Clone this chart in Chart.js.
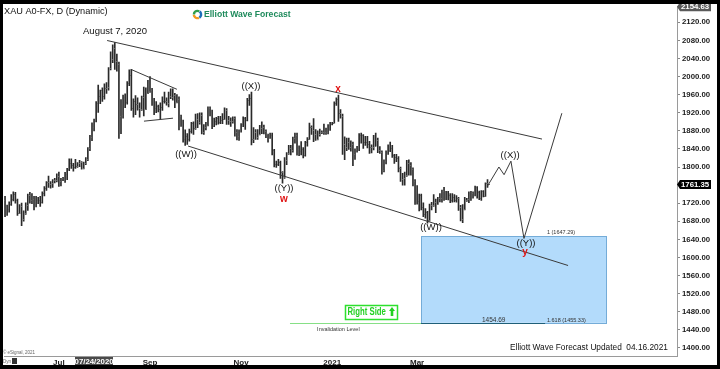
<!DOCTYPE html>
<html>
<head>
<meta charset="utf-8">
<title>XAU A0-FX, D</title>
<script src="https://cdn.jsdelivr.net/npm/chart.js@4.4.1/dist/chart.umd.min.js"></script>
<style>
  html, body { margin: 0; padding: 0; background: #000; }
  canvas { display: block; }
</style>
</head>
<body>
<canvas id="xau" width="720" height="369"></canvas>
<script>
// XAU daily bars, 26 May 2020 .. 16 Apr 2021
var firstDay = '2020-05-26';
var futureSlots = 91;

var open = [
  1728,1710,1708,1719,
  1730,1740,1727,1699,1714,1684,1698,1715,1737,1728,1730,1725,1727,1726,1722,1742,1754,1767,1762,1764,1771,1772,
  1780,1769,1775,1773,1784,1795,1809,1804,1800,1803,1809,1810,1797,1809,1818,1842,1866,1888,1902,1941,1957,1970,1958,
  1975,1976,2019,2040,2063,2035,2028,1912,1914,1954,1944,1985,2003,1930,1946,1940,1930,1928,1954,1929,1964,
  1968,1971,1944,1930,1934,1929,1932,1946,1945,1941,1957,1955,1960,1944,1950,1912,1900,1863,1868,1862,1880,1898,
  1886,1906,1899,1914,1878,1889,1893,1930,1922,1891,1902,1908,1899,1905,1907,1925,1904,1902,1902,1908,1877,1868,
  1879,1895,1909,1904,1948,1952,1863,1877,1866,1874,1887,1888,1880,1872,1866,1871,1838,1806,1806,1811,1788,
  1777,1815,1830,1841,1838,1864,1871,1839,1836,1840,1827,1855,1863,1888,1881,1872,1862,1872,1877,1878,1878,1877,1893,
  1896,1897,1942,1950,1919,1913,1850,1844,1855,1845,1851,1828,1839,1840,1871,1870,1855,1855,1850,1844,1844,
  1847,1860,1838,1834,1793,1813,1834,1838,1842,1826,1823,1819,1798,1773,1775,1783,1808,1805,1796,1770,
  1733,1724,1738,1712,1697,1700,1683,1715,1716,1722,1719,1731,1731,1746,1737,1745,1738,1727,1734,1728,1732,1712,1685,
  1708,1728,1729,1728,1743,1737,1755,1744,1732,1746,1736,1764
];
var high = [
  1735,1716,1723,1739,
  1745,1744,1729,1717,1720,1703,1721,1740,1744,1741,1735,1735,1733,1735,1745,1757,1768,1780,1768,1772,1775,1785,
  1789,1775,1777,1788,1797,1818,1818,1808,1817,1810,1815,1812,1811,1821,1843,1870,1898,1906,1945,1981,1970,1975,1984,
  1987,2020,2055,2070,2075,2050,2032,1949,1959,1962,1989,2015,2016,1951,1958,1953,1942,1957,1977,1975,1992,
  2000,1974,1952,1945,1937,1942,1955,1966,1953,1966,1973,1973,1963,1960,1955,1915,1904,1882,1874,1884,1899,1900,
  1917,1918,1920,1920,1894,1899,1933,1933,1926,1908,1910,1912,1912,1918,1931,1929,1912,1909,1911,1911,1883,1882,
  1896,1911,1910,1952,1960,1966,1887,1883,1883,1892,1900,1893,1882,1873,1875,1875,1839,1813,1817,1813,1790,
  1821,1832,1848,1848,1866,1875,1875,1847,1856,1843,1857,1865,1897,1891,1907,1883,1880,1884,1880,1895,1886,1894,1899,
  1899,1944,1953,1959,1927,1917,1867,1864,1864,1858,1855,1840,1846,1874,1875,1872,1868,1868,1857,1849,1870,
  1875,1864,1845,1836,1816,1836,1849,1855,1848,1828,1828,1823,1800,1786,1789,1815,1816,1810,1798,1772,
  1759,1740,1740,1721,1708,1702,1718,1722,1739,1729,1733,1741,1749,1755,1746,1746,1741,1741,1739,1737,1733,1715,1717,
  1733,1731,1745,1746,1745,1758,1757,1747,1748,1748,1765,1772
];
var low = [
  1690,1693,1700,1715,
  1725,1720,1693,1697,1670,1680,1695,1704,1720,1719,1705,1712,1719,1713,1720,1736,1748,1755,1753,1755,1765,1767,
  1757,1758,1770,1766,1772,1792,1797,1791,1797,1799,1801,1795,1796,1805,1814,1836,1858,1880,1900,1921,1940,1945,1950,
  1963,1970,2015,2031,2016,2012,1863,1874,1908,1931,1939,1980,1925,1910,1916,1926,1910,1925,1913,1927,1962,
  1965,1936,1916,1920,1922,1906,1925,1941,1937,1933,1951,1948,1931,1942,1882,1890,1855,1848,1850,1857,1875,1872,
  1883,1887,1895,1873,1872,1882,1891,1913,1885,1889,1893,1895,1896,1896,1905,1894,1894,1890,1897,1868,1860,1859,
  1877,1889,1883,1902,1936,1849,1854,1861,1861,1871,1874,1873,1865,1855,1863,1827,1800,1799,1803,1775,1764,
  1775,1805,1828,1827,1833,1853,1826,1825,1827,1820,1824,1846,1861,1872,1856,1859,1860,1868,1874,1872,1872,1873,1881,
  1893,1897,1936,1901,1908,1828,1816,1836,1839,1835,1803,1817,1833,1836,1853,1841,1848,1842,1830,1831,1838,
  1846,1832,1830,1784,1789,1807,1828,1834,1821,1808,1812,1789,1768,1760,1760,1779,1782,1782,1758,1717,
  1718,1703,1705,1690,1687,1676,1680,1705,1713,1699,1717,1723,1722,1726,1728,1727,1721,1722,1723,1722,1704,1681,1677,
  1705,1724,1721,1726,1731,1736,1731,1728,1726,1734,1735,1755
];
var close = [
  1710,1708,1719,1730,
  1740,1727,1699,1714,1684,1698,1715,1737,1728,1730,1725,1727,1726,1722,1742,1754,1767,1762,1764,1771,1772,1780,
  1769,1775,1773,1784,1795,1809,1804,1800,1803,1809,1810,1797,1809,1818,1842,1866,1888,1902,1941,1957,1970,1958,1975,
  1976,2019,2040,2063,2035,2028,1912,1914,1954,1944,1985,2003,1930,1946,1940,1930,1928,1954,1929,1964,1968,
  1971,1944,1930,1934,1929,1932,1946,1945,1941,1957,1955,1960,1944,1950,1912,1900,1863,1868,1862,1880,1898,1886,
  1906,1899,1914,1878,1889,1893,1930,1922,1891,1902,1908,1899,1905,1907,1925,1904,1902,1902,1908,1877,1868,1879,
  1895,1909,1904,1948,1952,1863,1877,1866,1874,1887,1888,1880,1872,1866,1871,1838,1806,1806,1811,1788,1777,
  1815,1830,1841,1838,1864,1871,1839,1836,1840,1827,1855,1863,1888,1881,1872,1862,1872,1877,1878,1878,1877,1893,1896,
  1897,1942,1950,1919,1913,1850,1844,1855,1845,1851,1828,1839,1840,1871,1870,1855,1855,1850,1844,1844,1847,
  1860,1838,1834,1793,1813,1834,1838,1842,1826,1823,1819,1798,1773,1775,1783,1808,1805,1796,1770,1733,
  1724,1738,1712,1697,1700,1683,1715,1716,1722,1719,1731,1731,1746,1737,1745,1738,1727,1734,1728,1732,1712,1685,1708,
  1728,1729,1728,1743,1737,1755,1744,1732,1746,1736,1764,1761.35
];

// axis labels
var monthTicks = { '2020-07-01': 'Jul', '2020-09-01': 'Sep', '2020-11-02': 'Nov', '2021-01-01': '2021', '2021-03-01': 'Mar' };
var yTicks = [1400,1440,1480,1520,1560,1600,1640,1680,1720,1760,1800,1840,1880,1920,1960,2000,2040,2080,2120];
var yMin = 1382, yMax = 2154.63;
var lastPrice = 1761.35;
var cursorDay = '2020-07-24', cursorText = '07/24/2020';

// drawings, in (bar index, price)
var channelTop = [[49.3, 2079.8], [259.3, 1861.8]];
var channelBottom = [[88.4, 1846.4], [271.9, 1582.2]];
var triangleTop = [[60.8, 2015.9], [83.0, 1971.9]];
var triangleBottom = [[67.1, 1901.4], [81.1, 1908.0]];
var forecastPath = [[233, 1758], [238.5, 1800], [241, 1783], [244.3, 1813], [250.6, 1642], [268.9, 1919]];
var fibTop = 1647.29, fibBottom = 1455.33, invalidation = 1454.69;
var boxFrom = 200.9, boxTo = 290.2;
var waveLabels = [
  { text: 'August 7, 2020', i: 53.1, p: 2099.6 },
  { text: '((X))', i: 118.8, p: 1978.5 },
  { text: 'x', i: 160.8, p: 1971.9, red: true },
  { text: '((W))', i: 87.4, p: 1828.8 },
  { text: '((Y))', i: 134.7, p: 1751.7 },
  { text: 'w', i: 134.7, p: 1729.7, red: true },
  { text: '((W))', i: 205.7, p: 1665.9 },
  { text: '((X))', i: 243.9, p: 1826.6 },
  { text: '((Y))', i: 251.6, p: 1630.6 },
  { text: 'y', i: 251.1, p: 1610.8, red: true }
];

// trading-day categories
var dates = [];
var d = new Date(firstDay + 'T00:00:00Z');
while (dates.length < open.length) {
  var wd = d.getUTCDay();
  if (wd !== 0 && wd !== 6) dates.push(d.toISOString().slice(0, 10));
  d.setUTCDate(d.getUTCDate() + 1);
}
for (var k = 0; k < futureSlots; k++) dates.push('');

var FONT = '"Liberation Sans", Arial, sans-serif';

function polyline(c, xs, ys, pts) {
  c.beginPath();
  pts.forEach(function (pt, n) {
    var x = xs.getPixelForValue(pt[0]), y = ys.getPixelForValue(pt[1]);
    if (n === 0) c.moveTo(x, y); else c.lineTo(x, y);
  });
  c.stroke();
}

var drawings = {
  id: 'drawings',
  beforeDraw: function (chart) {
    var c = chart.ctx;
    c.save();
    c.fillStyle = '#fff';
    c.fillRect(0, 0, chart.width, chart.height);
    c.restore();
  },
  beforeDatasetsDraw: function (chart) {
    var c = chart.ctx, xs = chart.scales.x, ys = chart.scales.y;
    var x0 = xs.getPixelForValue(boxFrom), x1 = xs.getPixelForValue(boxTo);
    var y0 = ys.getPixelForValue(fibTop), y1 = ys.getPixelForValue(fibBottom);
    c.save();
    c.fillStyle = '#b3dbfb';
    c.fillRect(x0, y0, x1 - x0, y1 - y0);
    c.strokeStyle = '#74acd8';
    c.lineWidth = 1;
    c.strokeRect(Math.round(x0) + 0.5, Math.round(y0) + 0.5, Math.round(x1 - x0), Math.round(y1 - y0));
    c.restore();
  },
  afterDatasetsDraw: function (chart) {
    var c = chart.ctx, xs = chart.scales.x, ys = chart.scales.y;
    c.save();
    // open / close ticks
    c.fillStyle = '#666';
    for (var i = 0; i < open.length; i++) {
      var x = Math.round(xs.getPixelForValue(i));
      c.fillRect(x - 1, Math.round(ys.getPixelForValue(open[i])), 1, 1);
      c.fillRect(x + 1, Math.round(ys.getPixelForValue(close[i])), 1, 1);
    }
    // trend lines and forecast
    c.strokeStyle = '#3a3a3a';
    c.lineWidth = 1;
    [channelTop, channelBottom, triangleTop, triangleBottom, forecastPath].forEach(function (pts) {
      polyline(c, xs, ys, pts);
    });
    // invalidation level
    var yi = Math.round(ys.getPixelForValue(invalidation)) + 0.5;
    c.strokeStyle = '#86e086';
    c.beginPath(); c.moveTo(xs.getPixelForValue(137.6), yi); c.lineTo(xs.getPixelForValue(boxFrom), yi); c.stroke();
    c.strokeStyle = '#1f5f78';
    c.beginPath(); c.moveTo(xs.getPixelForValue(boxFrom), yi); c.lineTo(xs.getPixelForValue(260.8), yi); c.stroke();

    // level texts
    c.fillStyle = '#333';
    c.textAlign = 'left';
    c.textBaseline = 'alphabetic';
    c.font = '5.5px ' + FONT;
    c.fillText('1 (1647.29)', xs.getPixelForValue(261.7), ys.getPixelForValue(fibTop) - 2);
    c.fillText('1.618 (1455.33)', xs.getPixelForValue(261.7), ys.getPixelForValue(fibBottom) - 1);
    c.fillText('Invalidation Level', xs.getPixelForValue(150.7), ys.getPixelForValue(invalidation) + 8);
    c.font = '6.5px ' + FONT;
    c.fillText('1454.69', xs.getPixelForValue(230.3), ys.getPixelForValue(invalidation) - 1);

    // Right Side box
    var rx0 = Math.round(xs.getPixelForValue(164.2)), rx1 = Math.round(xs.getPixelForValue(189.3));
    var ry0 = Math.round(ys.getPixelForValue(1494)), ry1 = Math.round(ys.getPixelForValue(1463));
    c.fillStyle = '#fff';
    c.fillRect(rx0, ry0, rx1 - rx0, ry1 - ry0);
    c.strokeStyle = '#2ee02e';
    c.lineWidth = 1.5;
    c.strokeRect(rx0 + 0.5, ry0 + 0.5, rx1 - rx0, ry1 - ry0);
    c.fillStyle = '#22d022';
    c.save();
    c.translate(rx0 + 2.5, (ry0 + ry1) / 2 + 0.5);
    c.scale(0.74, 1);
    c.font = 'bold 10.5px ' + FONT;
    c.textBaseline = 'middle';
    c.fillText('Right Side', 0, 0);
    c.restore();
    var ax = rx1 - 5, ay = (ry0 + ry1) / 2;
    c.beginPath();
    c.moveTo(ax, ay - 5); c.lineTo(ax + 3, ay - 1); c.lineTo(ax + 1.3, ay - 1); c.lineTo(ax + 1.3, ay + 4);
    c.lineTo(ax - 1.3, ay + 4); c.lineTo(ax - 1.3, ay - 1); c.lineTo(ax - 3, ay - 1); c.closePath();
    c.fill();

    // wave labels
    c.textAlign = 'center';
    c.textBaseline = 'middle';
    waveLabels.forEach(function (w) {
      c.fillStyle = w.red ? '#e01515' : '#111';
      c.font = (w.red ? 'bold 10px ' : '9.5px ') + FONT;
      c.fillText(w.text, xs.getPixelForValue(w.i), ys.getPixelForValue(w.p));
    });
    c.restore();
  },
  afterDraw: function (chart) {
    var c = chart.ctx, xs = chart.scales.x, ys = chart.scales.y;
    var right = chart.chartArea.right;
    c.save();
    c.textBaseline = 'middle';
    c.textAlign = 'left';
    // title and watermark
    c.fillStyle = '#111';
    c.font = '9.2px ' + FONT;
    c.fillText('XAU A0-FX, D (Dynamic)', 4, 11);
    c.font = '8.3px ' + FONT;
    c.fillText('Elliott Wave Forecast Updated  04.16.2021', 510, 348);
    c.fillStyle = '#1d8a5b';
    c.font = 'bold 8.6px ' + FONT;
    c.fillText('Elliott Wave Forecast', 204, 14.5);
    c.lineWidth = 2.4;
    [['#2f9e4a', Math.PI, Math.PI * 1.66], ['#1b6fb8', Math.PI * 1.7, Math.PI * 2.33], ['#f29a1f', Math.PI * 0.37, Math.PI * 0.97]].forEach(function (a) {
      c.strokeStyle = a[0];
      c.beginPath(); c.arc(197.5, 14.5, 3.6, a[1], a[2]); c.stroke();
    });
    c.fillStyle = '#666';
    c.font = '4.5px ' + FONT;
    c.fillText('\u00a9 eSignal, 2021', 3, 352.5);
    c.fillText('Dyn', 3, 361.5);
    c.fillStyle = '#333';
    c.fillRect(12, 358, 5, 6);

    // price tags on the right axis
    function tag(price, fill) {
      var y = ys.getPixelForValue(price);
      c.fillStyle = fill;
      c.beginPath();
      c.moveTo(right, y); c.lineTo(right + 3, y - 4.5); c.lineTo(right + 34, y - 4.5);
      c.lineTo(right + 34, y + 4.5); c.lineTo(right + 3, y + 4.5); c.closePath();
      c.fill();
      c.fillStyle = '#fff';
      c.font = 'bold 7.8px ' + FONT;
      c.fillText(price.toFixed(2), right + 4, y + 0.5);
    }
    tag(yMax, '#5a5a5a');
    tag(lastPrice, '#000');

    // cursor date tag
    var cx = xs.getPixelForValue(dates.indexOf(cursorDay));
    c.fillStyle = '#4a4a4a';
    c.fillRect(Math.round(cx - 19), 357, 38, 10);
    c.fillStyle = '#fff';
    c.textAlign = 'center';
    c.font = 'bold 7.8px ' + FONT;
    c.fillText(cursorText, cx, 361.5);

    // outer frame
    c.fillStyle = '#000';
    c.fillRect(0, 0, 720, 4);
    c.fillRect(0, 365, 720, 4);
    c.fillRect(0, 0, 3, 369);
    c.fillRect(717, 0, 3, 369);
    c.restore();
  }
};

new Chart(document.getElementById('xau'), {
  type: 'bar',
  data: {
    labels: dates,
    datasets: [{
      data: high.map(function (h, i) { return [low[i], h]; }),
      backgroundColor: '#2a2a2a',
      borderWidth: 0,
      barThickness: 1,
      grouped: false
    }]
  },
  options: {
    responsive: false,
    animation: false,
    devicePixelRatio: 1,
    events: [],
    layout: { padding: { left: 4, top: 5, right: 3, bottom: 4 } },
    plugins: { legend: { display: false }, tooltip: { enabled: false } },
    scales: {
      x: {
        type: 'category',
        afterFit: function (s) { s.height = 9; },
        grid: { display: false, drawTicks: false },
        border: { color: '#9a9a9a' },
        ticks: {
          autoSkip: false, maxRotation: 0, padding: 2, color: '#1a1a1a',
          font: { family: FONT, size: 8, weight: 'bold' },
          callback: function (v) { return monthTicks[dates[v]] || ''; }
        }
      },
      y: {
        position: 'right',
        min: yMin,
        max: yMax,
        afterBuildTicks: function (s) { s.ticks = yTicks.map(function (v) { return { value: v }; }); },
        afterFit: function (s) { s.width = 40; },
        grid: { drawOnChartArea: false, drawTicks: true, tickLength: 3, color: '#888' },
        border: { color: '#9a9a9a' },
        ticks: {
          padding: 2, color: '#1a1a1a',
          font: { family: FONT, size: 7.8, weight: 'bold' },
          callback: function (v) { return v.toFixed(2); }
        }
      }
    }
  },
  plugins: [drawings]
});
</script>
</body>
</html>
